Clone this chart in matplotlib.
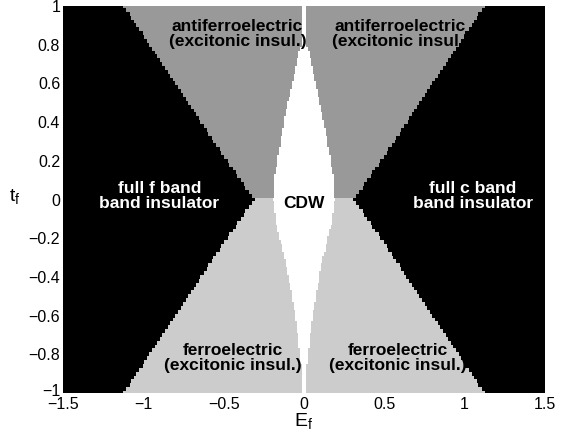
import numpy as np
import matplotlib
matplotlib.use("Agg")
import matplotlib.pyplot as plt
import matplotlib.transforms as mtransforms
from matplotlib.colors import ListedColormap

# phase boundaries (half widths in E_f, symmetric in E_f)
t_knots = [0.0, 0.25, 0.5, 0.75, 1.0]
outer_edge = [0.31, 0.52, 0.72, 0.92, 1.12]      # black band insulator beyond this

t_cdw_up = [0.0, 0.1, 0.2, 0.3, 0.4, 0.5, 0.6, 0.7, 0.8, 0.9, 1.0]
cdw_up = [0.19, 0.185, 0.165, 0.145, 0.125, 0.10, 0.075, 0.05, 0.02, 0.012, 0.012]
t_cdw_dn = [0.0, 0.1, 0.2, 0.3, 0.4, 0.5, 0.6, 0.7, 0.8, 0.9, 1.0]
cdw_dn = [0.19, 0.175, 0.15, 0.12, 0.095, 0.075, 0.055, 0.04, 0.025, 0.015, 0.012]

phase_colors = ["#000000", "#999999", "#cccccc", "#ffffff"]

xticks = [-1.5, -1, -0.5, 0, 0.5, 1, 1.5]
yticks = [-1, -0.8, -0.6, -0.4, -0.2, 0, 0.2, 0.4, 0.6, 0.8, 1]

labels = [
    ("antiferroelectric\n(excitonic insul.)", -0.415, 0.855, "k"),
    ("antiferroelectric\n(excitonic insul.)", 0.60, 0.855, "k"),
    ("full f band\nband insulator", -0.90, 0.02, "w"),
    ("full c band\nband insulator", 1.05, 0.02, "w"),
    ("CDW", 0.0, -0.02, "k"),
    ("ferroelectric\n(excitonic insul.)", -0.44, -0.82, "k"),
    ("ferroelectric\n(excitonic insul.)", 0.585, -0.82, "k"),
]

#################################
# build phase grid
E = np.linspace(-1.5, 1.5, 301)
t = np.linspace(-1, 1, 101)
EE, TT = np.meshgrid(E, t)
outer = np.interp(np.abs(TT), t_knots, outer_edge)
cdw = np.where(TT > 0, np.interp(np.abs(TT), t_cdw_up, cdw_up),
               np.interp(np.abs(TT), t_cdw_dn, cdw_dn))
phase = np.where(TT > 0, 1, 2)
phase = np.where(np.abs(EE) > outer, 0, phase)
phase = np.where(np.abs(EE) <= cdw, 3, phase)

plt.rcParams["font.family"] = ["Liberation Sans", "DejaVu Sans"]
plt.rcParams["axes.unicode_minus"] = True

fig = plt.figure(figsize=(5.64, 4.36), dpi=100)
ax = fig.add_axes([63 / 564, 43 / 436, 482 / 564, 387 / 436])
ax.pcolormesh(E, t, phase, cmap=ListedColormap(phase_colors), vmin=-0.5, vmax=3.5,
              shading="nearest")
ax.set_xlim(-1.5, 1.5)
ax.set_ylim(-1, 1)
ax.set_xticks(xticks)
ax.set_yticks(yticks)
ax.set_xticklabels([("%g" % v).replace("-", "\u2212") for v in xticks])
ax.set_yticklabels([("%g" % v).replace("-", "\u2212") for v in yticks])
ax.tick_params(length=0, labelsize=11.5, pad=2)
ax.tick_params(axis="x", pad=3)
for sp in ax.spines.values():
    sp.set_visible(False)

# nudge the bottom y label up a bit so it does not sit on the -1.5 label
lab = ax.get_yticklabels()[0]
lab.set_transform(lab.get_transform() + mtransforms.ScaledTranslation(0, 3 / 100, fig.dpi_scale_trans))

for txt, x, y, c in labels:
    ax.text(x, y, txt, color=c, ha="center", va="center", fontsize=12.5,
            fontweight="bold", linespacing=1.0)

ax.set_xlabel("E$_\\mathregular{f}$", fontsize=14, labelpad=0)
ax.set_ylabel("t$_\\mathregular{f}$", fontsize=14, rotation=0, ha="center", va="center")
ax.yaxis.set_label_coords(-0.10, 0.505)

plt.savefig("out.png", dpi=100)
plt.close("all")
